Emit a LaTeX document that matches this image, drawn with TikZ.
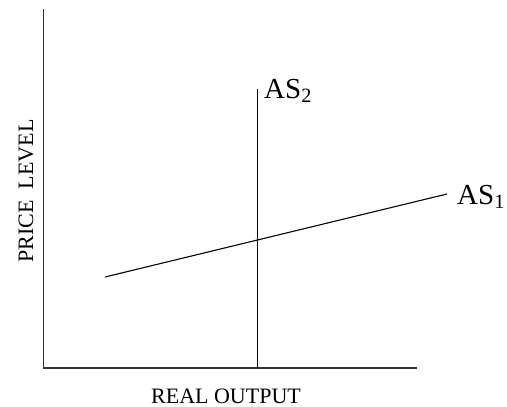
\documentclass[tikz,border=0pt]{standalone}
\usepackage{fontspec}
\setmainfont{Liberation Serif}
\begin{document}
\begin{tikzpicture}[x=1pt,y=-1pt,
  axis/.style={line width=1.1pt,black!80},
  curve/.style={line width=1.1pt,black},
  lbl/.style={inner sep=0pt,font=\fontsize{29}{33}\selectfont},
  axlbl/.style={inner sep=0pt,font=\fontsize{22}{26}\selectfont}]
\useasboundingbox (0,0) rectangle (507,407);
\coordinate (ytop) at (43.5,9);
\coordinate (origin) at (43.5,368);
\coordinate (xend) at (417,368);
\draw[axis] (ytop) -- (origin) -- (xend);
\coordinate (as2top) at (257.5,89);
\coordinate (as2bot) at (257.5,368);
\draw[curve] (as2bot) -- (as2top);
\coordinate (as1l) at (105,277);
\coordinate (as1r) at (447,194);
\draw[curve] (as1l) -- (as1r);
\node[lbl,anchor=base west] (AS2) at (264,98) {AS\textsubscript{2}};
\node[lbl,anchor=base west] (AS1) at (457,204) {AS\textsubscript{1}};
\node[axlbl,anchor=base] (xl) at (226,403) {REAL OUTPUT};
\node[axlbl,anchor=base,rotate=90] (yl) at (33,191) {PRICE\ \ LEVEL};
\end{tikzpicture}
\end{document}
